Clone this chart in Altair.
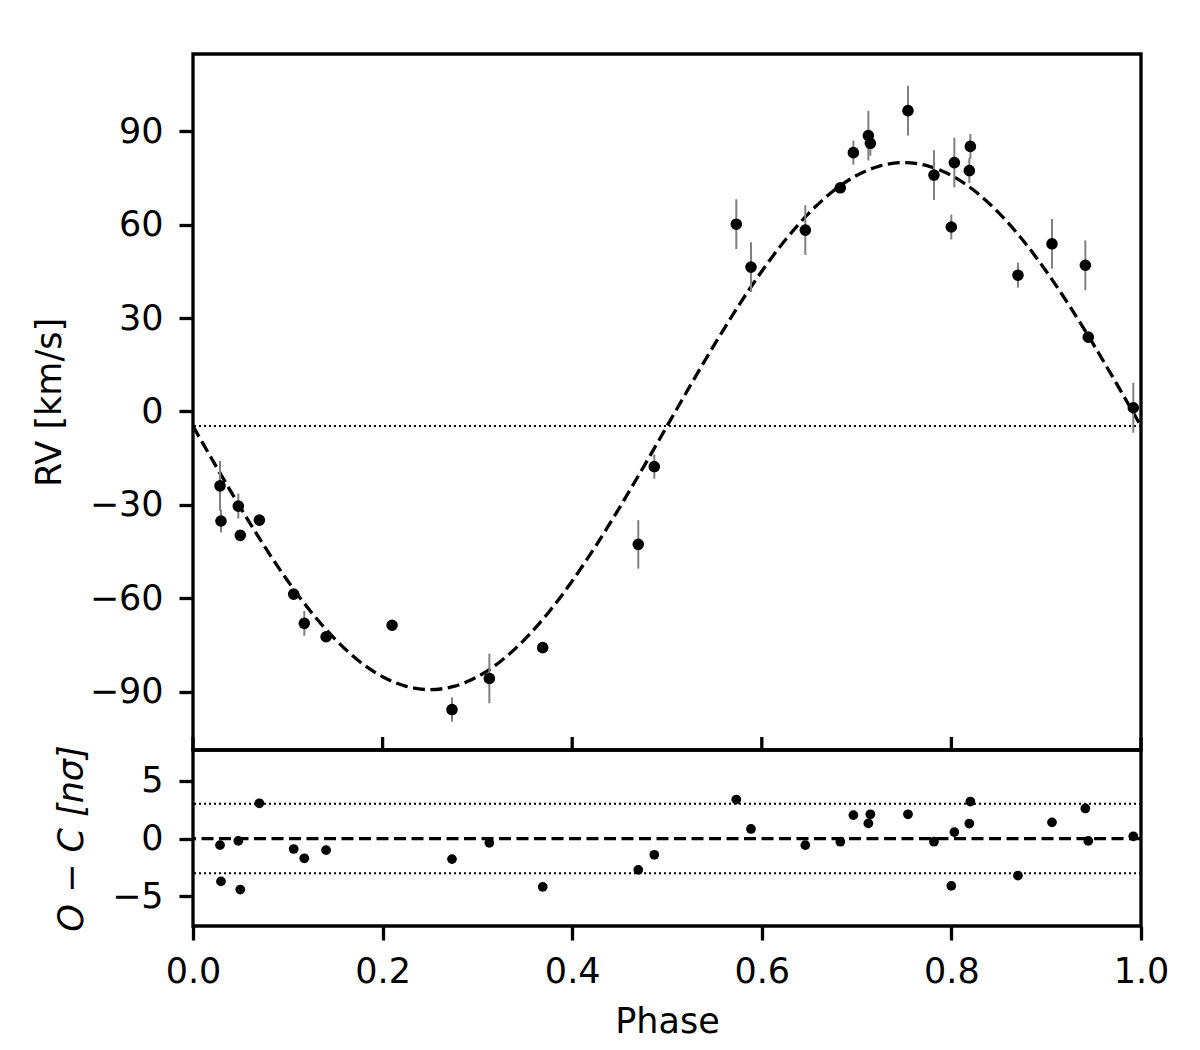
import altair as alt
import pandas as pd

# ---- data ----
phase = [0.0285, 0.0295, 0.0478, 0.0499, 0.0700, 0.1062, 0.1174, 0.1404,
         0.2100, 0.2732, 0.3126, 0.3689, 0.4697, 0.4866, 0.5731, 0.5886,
         0.6459, 0.6828, 0.6966, 0.7124, 0.7145, 0.7542, 0.7816, 0.8031,
         0.7999, 0.8200, 0.8189, 0.8702, 0.9061, 0.9413, 0.9444, 0.9919]
rv = [-23.9, -35.2, -30.4, -39.8, -34.9, -58.7, -68.1, -72.4,
      -68.7, -95.8, -85.8, -75.9, -42.7, -17.7, 60.2, 46.4,
      58.3, 71.9, 83.2, 88.7, 86.2, 96.7, 76.0, 80.0,
      59.3, 85.2, 77.4, 43.8, 53.9, 47.0, 23.9, 1.2]
rv_err = [8.0, 3.7, 4.0, 1.0, 1.0, 1.0, 4.0, 1.0,
          1.0, 3.9, 8.0, 1.0, 7.8, 3.9, 8.0, 8.0,
          8.0, 1.0, 3.9, 8.0, 4.0, 8.0, 8.0, 8.0,
          4.0, 4.0, 4.0, 4.0, 8.0, 8.0, 1.0, 8.0]
resid = [-0.57, -3.7, -0.2, -4.4, 3.05, -0.9, -1.7, -1.0,
         None, -1.77, -0.37, -4.17, -2.7, -1.4, 3.37, 0.83,
         -0.57, -0.27, 2.03, 1.31, 2.1, 2.1, -0.27, 0.56,
         -4.08, 3.2, 1.3, -3.2, 1.4, 2.6, -0.2, 0.2]

model_phase = [i * 0.025 for i in range(41)]
model_rv = [-4.7, -17.95, -30.87, -43.15, -54.49, -64.59, -73.22, -80.17, -85.26, -88.36,
            -89.4, -88.36, -85.26, -80.17, -73.22, -64.59, -54.49, -43.15, -30.87, -17.95,
            -4.7, 8.55, 21.47, 33.75, 45.09, 55.19, 63.82, 70.77, 75.86, 78.96,
            80.0, 78.96, 75.86, 70.77, 63.82, 55.19, 45.09, 33.75, 21.47, 8.55, -4.7]
gamma = -4.7
sigma_lines = [-3, 3]
x_ticks = [0.0, 0.2, 0.4, 0.6, 0.8, 1.0]
rv_ticks = [-90, -60, -30, 0, 30, 60, 90]
oc_ticks = [-5, 0, 5]

pts = pd.DataFrame({"phase": phase, "rv": rv, "err": rv_err, "resid": resid})
pts["lo"] = pts["rv"] - pts["err"]
pts["hi"] = pts["rv"] + pts["err"]
model = pd.DataFrame({"phase": model_phase, "rv": model_rv})
inner_ticks = pd.DataFrame({"t": x_ticks})

FONT = "DejaVu Sans"
W = 948
H_TOP = 696
H_BOT = 176
xscale = alt.Scale(domain=[0, 1], nice=False, zero=False)
yscale_top = alt.Scale(domain=[-108.8, 114.9], nice=False, zero=False)
yscale_bot = alt.Scale(domain=[-7.55, 7.65], nice=False, zero=False)

y_top_axis = alt.Axis(values=rv_ticks, title="RV [km/s]", grid=False, domain=False)

base_top = alt.Chart(pts)

sys_line = alt.Chart(pd.DataFrame({"y": [gamma]})).mark_rule(
    color="black", strokeWidth=2, strokeDash=[2, 3]
).encode(y=alt.Y("y:Q", scale=yscale_top))

model_line = alt.Chart(model).mark_line(
    color="black", strokeWidth=3.3, strokeDash=[12, 5.5], interpolate="monotone"
).encode(
    x=alt.X("phase:Q", scale=xscale, axis=None),
    y=alt.Y("rv:Q", scale=yscale_top, axis=y_top_axis),
)

errbars = base_top.mark_rule(color="#808080", strokeWidth=2).encode(
    x=alt.X("phase:Q", scale=xscale, axis=None),
    y=alt.Y("lo:Q", scale=yscale_top),
    y2="hi:Q",
)

points_top = base_top.mark_circle(color="black", size=135, opacity=1).encode(
    x=alt.X("phase:Q", scale=xscale, axis=None),
    y=alt.Y("rv:Q", scale=yscale_top),
)

# tick marks on the shared phase axis, drawn inside the bottom edge of the upper panel
top_ticks = alt.Chart(inner_ticks).mark_rule(color="black", strokeWidth=3.3).encode(
    x=alt.X("t:Q", scale=xscale, axis=None),
    y=alt.value(H_TOP - 13),
    y2=alt.value(H_TOP),
)

top = alt.layer(sys_line, model_line, errbars, points_top, top_ticks).properties(
    width=W, height=H_TOP
)

# ---- residual panel ----
x_bot_axis = alt.Axis(values=x_ticks, format=".1f", title="Phase", grid=False,
                      domain=False, labelFlush=False, labelPadding=14, titlePadding=15)
y_bot_axis = alt.Axis(values=oc_ticks, title="O − C [nσ]", grid=False, domain=False,
                      titleFontStyle="italic")

sig = alt.Chart(pd.DataFrame({"y": sigma_lines})).mark_rule(
    color="black", strokeWidth=2, strokeDash=[2, 3]
).encode(y=alt.Y("y:Q", scale=yscale_bot))

zero = alt.Chart(pd.DataFrame({"y": [0]})).mark_rule(
    color="black", strokeWidth=3.3, strokeDash=[12, 5.5]
).encode(y=alt.Y("y:Q", scale=yscale_bot))

points_bot = alt.Chart(pts).transform_filter("isValid(datum.resid)").mark_circle(
    color="black", size=95, opacity=1
).encode(
    x=alt.X("phase:Q", scale=xscale, axis=x_bot_axis),
    y=alt.Y("resid:Q", scale=yscale_bot, axis=y_bot_axis),
)

bottom = alt.layer(sig, zero, points_bot).properties(width=W, height=H_BOT)

chart = alt.vconcat(top, bottom, spacing=0, bounds="flush").properties(
    padding={"left": 22, "top": 44, "right": 5, "bottom": 10},
    background="white",
).configure_view(
    stroke="black", strokeWidth=3.3
).configure_axis(
    labelFont=FONT, labelFontSize=35, labelColor="black", labelPadding=16,
    titleFont=FONT, titleFontSize=35, titleColor="black", titleFontWeight="normal",
    titlePadding=22, tickColor="black", tickWidth=3.3, tickSize=14, labelFlush=False,
)

chart.save("out.html", embed_options={"renderer": "svg", "actions": False})
